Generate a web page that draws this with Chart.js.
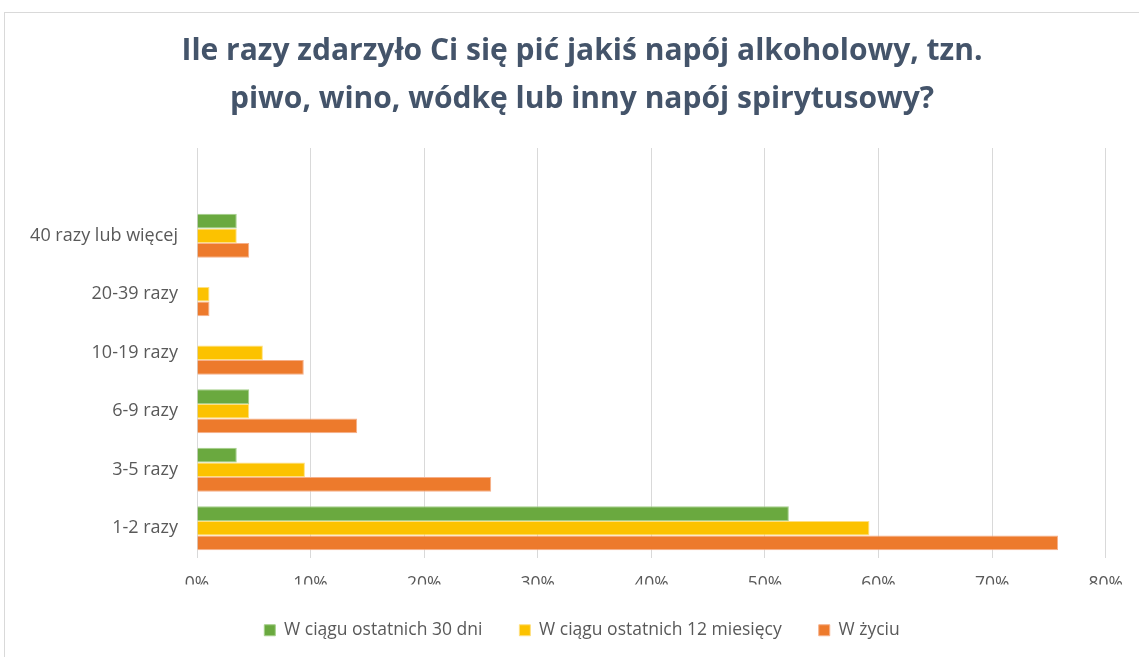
<!DOCTYPE html>
<html>
<head>
<meta charset="utf-8">
<script src="https://cdn.jsdelivr.net/npm/chart.js@4.4.0/dist/chart.umd.min.js"></script>
<style>
    html, body { margin: 0; padding: 0; background: #ffffff; }
    .frame {
        position: absolute;
        left: 4px; top: 12px;
        width: 1140px; height: 650px;
        border: 1px solid #d9d9d9;
        box-sizing: border-box;
    }
    .chart-box {
        position: absolute;
        left: 0; top: 0;
        width: 1139px; height: 657px;
    }
</style>
</head>
<body>
<div class="frame"></div>
<div class="chart-box"><canvas id="drinkChart"></canvas></div>
<script>
// top category is an empty slot in the original sheet
const categories = ['', '40 razy lub więcej', '20-39 razy', '10-19 razy', '6-9 razy', '3-5 razy', '1-2 razy'];
const last30Days = [null, 3.5, null, null, 4.6, 3.5, 52.1];
const last12Months = [null, 3.5, 1.1, 5.8, 4.6, 9.5, 59.2];
const lifetime = [null, 4.6, 1.1, 9.4, 14.1, 25.9, 75.8];
const seriesNames = ['W ciągu ostatnich 30 dni', 'W ciągu ostatnich 12 miesięcy', 'W życiu'];
const xTicks = [0, 10, 20, 30, 40, 50, 60, 70, 80];

const FONT = "'Open Sans', 'Noto Sans', sans-serif";
const TEXT_COLOR = '#595959';

const colors = [
    { fill: '#6aa93f', border: '#a5cf8a' },
    { fill: '#fcc200', border: '#ffe080' },
    { fill: '#ed7a2c', border: '#f6b08a' }
];

const datasets = [last30Days, last12Months, lifetime].map((values, i) => ({
    label: seriesNames[i],
    data: values,
    backgroundColor: colors[i].fill,
    borderColor: colors[i].border,
    borderWidth: 1,
    categoryPercentage: 0.75,
    barPercentage: 1.0
}));

// title and legend are centred a bit right of the canvas middle in the original
const shiftBoxes = {
    id: 'shiftBoxes',
    afterLayout(chart) {
        if (chart.titleBlock) chart.titleBlock.left = 57;
        if (chart.legend) chart.legend.left = 57;
    }
};

new Chart(document.getElementById('drinkChart'), {
    type: 'bar',
    data: { labels: categories, datasets },
    plugins: [shiftBoxes],
    options: {
        indexAxis: 'y',
        responsive: true,
        maintainAspectRatio: false,
        animation: false,
        layout: { padding: { left: 12, right: 32, top: 0, bottom: 8 } },
        scales: {
            x: {
                min: 0,
                max: 80,
                afterBuildTicks(scale) {
                    scale.ticks = xTicks.map(v => ({ value: v }));
                },
                afterFit(scale) { scale.height = 27; },
                ticks: {
                    callback: v => v + '%',
                    color: TEXT_COLOR,
                    font: { family: FONT, size: 17.5 },
                    padding: 16
                },
                grid: { color: '#d9d9d9', drawTicks: false },
                border: { display: false }
            },
            y: {
                afterFit(scale) { scale.width = 185; },
                ticks: {
                    color: TEXT_COLOR,
                    font: { family: FONT, size: 18 },
                    padding: 11
                },
                grid: { display: false },
                border: { display: false }
            }
        },
        plugins: {
            title: {
                display: true,
                text: ['Ile razy zdarzyło Ci się pić jakiś napój alkoholowy, tzn.', 'piwo, wino, wódkę lub inny napój spirytusowy?'],
                color: '#44546a',
                font: { family: FONT, size: 30, weight: 'bold', lineHeight: 1.6 },
                padding: { top: 27, bottom: 25 }
            },
            legend: {
                position: 'bottom',
                labels: {
                    boxWidth: 11,
                    boxHeight: 11,
                    color: TEXT_COLOR,
                    font: { family: FONT, size: 17.5 },
                    padding: 37
                }
            },
            tooltip: { enabled: false }
        }
    }
});
</script>
</body>
</html>
